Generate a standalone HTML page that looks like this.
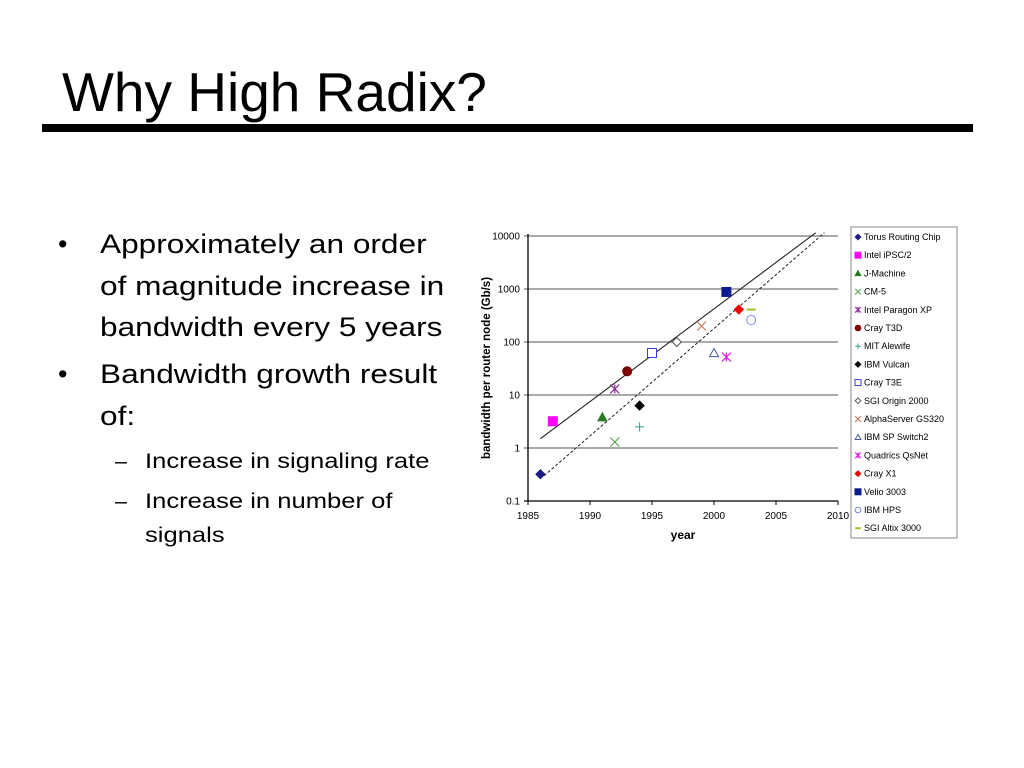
<!DOCTYPE html>
<html><head><meta charset="utf-8"><style>
body{margin:0;width:1024px;height:768px;background:#fff;position:relative;overflow:hidden;font-family:"Liberation Sans",sans-serif;color:#000}
.t{position:absolute;white-space:nowrap;transform-origin:0 0}
</style></head><body>
<div class="t" style="left:62px;top:62px;font-size:55px;line-height:60px">Why High Radix?</div>
<div style="position:absolute;left:42px;top:124px;width:931px;height:8px;background:#000"></div>
<div>
<div class="t" style="left:58px;top:224px;font-size:27px;line-height:41.5px">•</div>
<div class="t" style="left:100px;top:224px;font-size:27px;line-height:41.5px;transform:scaleX(1.17)">Approximately an order<br>of magnitude increase in<br>bandwidth every 5 years</div>
<div class="t" style="left:58px;top:354px;font-size:27px;line-height:41.5px">•</div>
<div class="t" style="left:100px;top:354px;font-size:27px;line-height:41.5px;transform:scaleX(1.17)">Bandwidth growth result<br>of:</div>
<div class="t" style="left:115px;top:444px;font-size:21.5px;line-height:34px">–</div>
<div class="t" style="left:145px;top:444px;font-size:21.5px;line-height:34px;transform:scaleX(1.19)">Increase in signaling rate</div>
<div class="t" style="left:115px;top:484px;font-size:21.5px;line-height:34px">–</div>
<div class="t" style="left:145px;top:484px;font-size:21.5px;line-height:34px;transform:scaleX(1.19)">Increase in number of<br>signals</div>
</div>
<svg id="chart" width="1024" height="768" style="position:absolute;left:0;top:0" font-family="Liberation Sans, sans-serif"></svg>
<script>
const names=["Torus Routing Chip","Intel iPSC/2","J-Machine","CM-5","Intel Paragon XP","Cray T3D","MIT Alewife","IBM Vulcan","Cray T3E","SGI Origin 2000","AlphaServer GS320","IBM SP Switch2","Quadrics QsNet","Cray X1","Velio 3003","IBM HPS","SGI Altix 3000"];
const years=[1986,1987,1991,1992,1992,1993,1994,1994,1995,1997,1999,2000,2001,2002,2001,2003,2003];
const values=[0.32,3.2,3.8,1.3,13,28,2.5,6.3,62,100,200,62,52,410,880,260,410];
const xTicks=[1985,1990,1995,2000,2005,2010];
const yTicks=[0.1,1,10,100,1000,10000];
const yTickLabels=["0.1","1","10","100","1000","10000"];
const trendSolid=[[1986,1.5],[2008.2,11500]];
const trendDashed=[[1986.3,0.3],[2008.9,11500]];
const styles=[["diamond","#1a1a80",1],["square","#f0f",1],["triangle","#2a7a20",1],["x","#4a9a40",0],["star","#8a2a9a",0],["circle","#800000",1],["plus","#3a9a8a",0],["diamond","#000",1],["square","#3a3ae0",0],["diamond","#555",0],["x","#c0603a",0],["triangle","#4a5aa0",0],["star","#e020e0",0],["diamond","#f00000",1],["square","#0a1a90",1],["circle","#7a8ae0",0],["dash","#a0c020",0]];
const NS="http://www.w3.org/2000/svg",svg=document.getElementById('chart');
const X0=528,X1=838,Y0=501,Y1=236;
const xs=y=>X0+(y-1985)/25*(X1-X0);
const ys=v=>Y0-(Math.log10(v)+1)/5*(Y0-Y1);
function mk(t,a,p){const e=document.createElementNS(NS,t);for(const k in a)e.setAttribute(k,a[k]);(p||svg).appendChild(e);return e;}
const cp=mk('clipPath',{id:'pc'});mk('rect',{x:X0,y:230,width:X1-X0,height:Y0-230},cp);
yTicks.forEach((v,i)=>{const g=mk('line',{x1:X0-4,x2:X1,y1:ys(v),y2:ys(v),stroke:i==0?'#000':'#777','stroke-width':1.3});


const t=mk('text',{x:X0-8,y:ys(v)+3.5,'text-anchor':'end','font-size':10});t.textContent=yTickLabels[i];

});
mk('line',{x1:X0,x2:X0,y1:Y1-2,y2:Y0,stroke:'#000','stroke-width':1.3});
xTicks.forEach(v=>{mk('line',{x1:xs(v),x2:xs(v),y1:Y0,y2:Y0+4,stroke:'#000'});
const t=mk('text',{x:xs(v),y:Y0+18,'text-anchor':'middle','font-size':10});t.textContent=v;

});
const xt=mk('text',{x:683,y:539,'text-anchor':'middle','font-size':12,'font-weight':'bold'});xt.textContent='year';


const yt=mk('text',{x:0,y:0,transform:'translate(490,368) rotate(-90)','text-anchor':'middle','font-size':11.5,'font-weight':'bold'});yt.textContent='bandwidth per router node (Gb/s)';


const l1=mk('line',{x1:xs(trendSolid[0][0]),y1:ys(trendSolid[0][1]),x2:xs(trendSolid[1][0]),y2:ys(trendSolid[1][1]),stroke:'#222','stroke-width':1.1,'clip-path':'url(#pc)'});


const l2=mk('line',{x1:xs(trendDashed[0][0]),y1:ys(trendDashed[0][1]),x2:xs(trendDashed[1][0]),y2:ys(trendDashed[1][1]),stroke:'#222','stroke-width':1,'stroke-dasharray':'3,2','clip-path':'url(#pc)'});


function marker(sh,c,f,x,y,s){const g=mk('g',{});const fill=f?c:'none';
if(sh=='diamond')mk('path',{d:`M${x},${y-s}L${x+s},${y}L${x},${y+s}L${x-s},${y}Z`,fill:fill==='none'?'#fff':fill,stroke:c},g);
else if(sh=='square')mk('rect',{x:x-s,y:y-s,width:2*s,height:2*s,fill:fill==='none'?'#fff':fill,stroke:c},g);
else if(sh=='triangle')mk('path',{d:`M${x},${y-s}L${x+s},${y+s*0.8}L${x-s},${y+s*0.8}Z`,fill:fill==='none'?'#fff':fill,stroke:c},g);
else if(sh=='circle')mk('circle',{cx:x,cy:y,r:s,fill:fill==='none'?'#fff':fill,stroke:c},g);
else if(sh=='x')mk('path',{d:`M${x-s},${y-s}L${x+s},${y+s}M${x+s},${y-s}L${x-s},${y+s}`,stroke:c,'stroke-width':1},g);
else if(sh=='plus')mk('path',{d:`M${x-s},${y}L${x+s},${y}M${x},${y-s}L${x},${y+s}`,stroke:c},g);
else if(sh=='star')mk('path',{d:`M${x-s},${y-s}L${x+s},${y+s}M${x+s},${y-s}L${x-s},${y+s}M${x},${y-s}L${x},${y+s}`,stroke:c,'stroke-width':1.2},g);
else if(sh=='dash')mk('path',{d:`M${x-s},${y}L${x+s},${y}`,stroke:c,'stroke-width':2},g);
return g;}
years.forEach((yr,i)=>{const st=styles[i];const m=marker(st[0],st[1],st[2],xs(yr),ys(values[i]),4.5);

});
const lg=mk('g',{});


mk('rect',{x:851,y:227,width:106,height:311,fill:'#fff',stroke:'#888'},lg);
names.forEach((n,i)=>{const y=237+i*18.2;const st=styles[i];
const m=marker(st[0],st[1],st[2],858,y,st[0]=='square'?3:2.8);lg.appendChild(m);
const t=mk('text',{x:864,y:y+3,'font-size':9},lg);t.textContent=n;

});
</script>
</body></html>
